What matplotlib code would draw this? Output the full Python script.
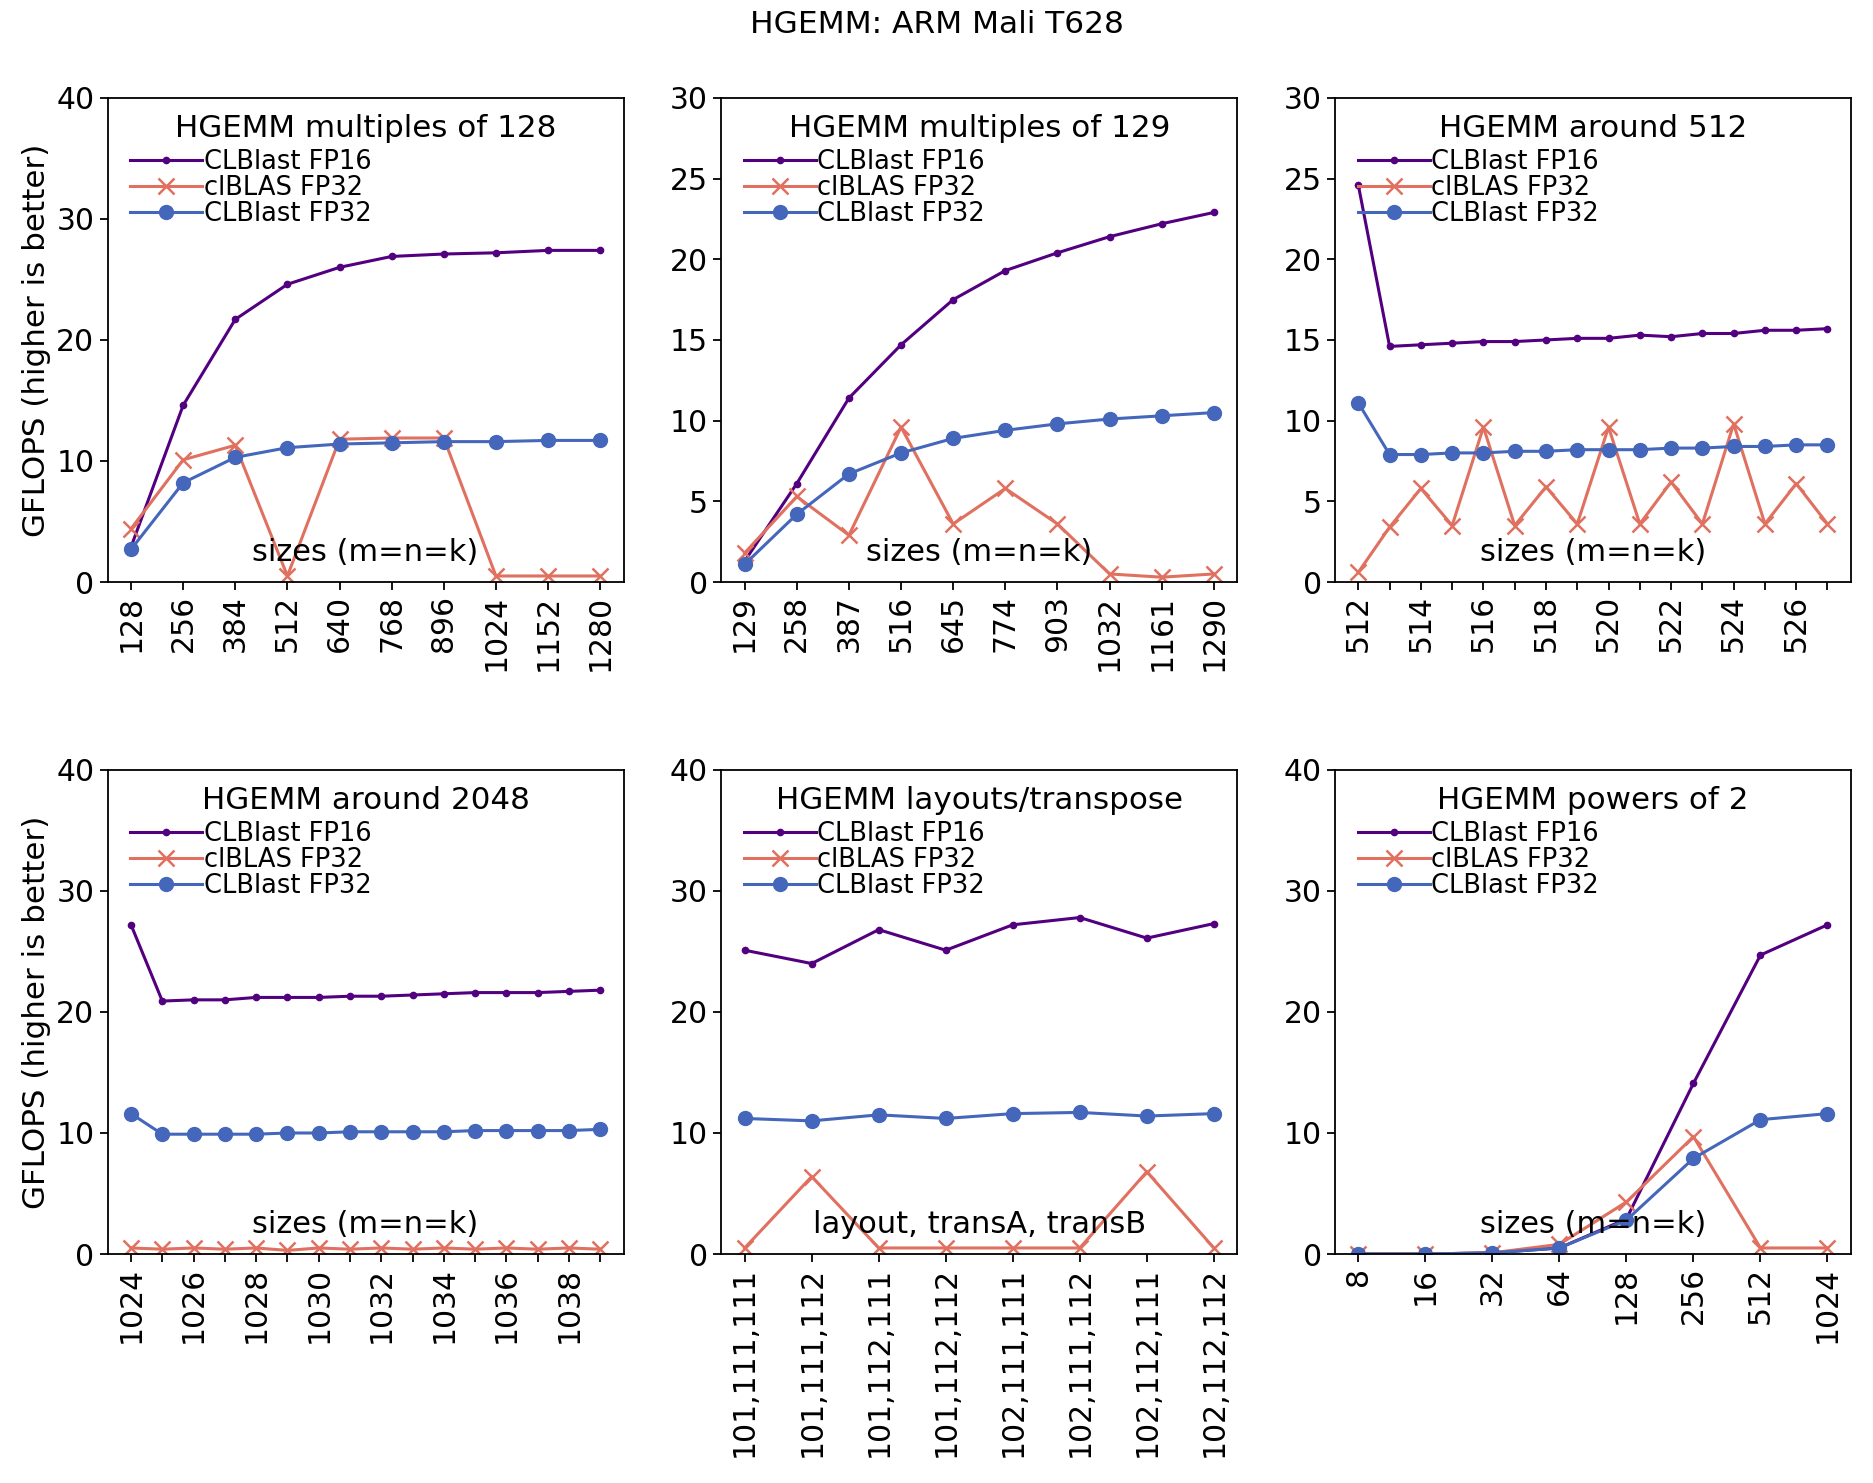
import matplotlib
matplotlib.use("Agg")
import matplotlib.pyplot as plt

# x labels per panel
sizes_128 = ["128", "256", "384", "512", "640", "768", "896", "1024", "1152", "1280"]
sizes_129 = ["129", "258", "387", "516", "645", "774", "903", "1032", "1161", "1290"]
sizes_512 = [str(v) for v in range(512, 528)]
sizes_2048 = [str(v) for v in range(1024, 1040)]
layouts = ["101,111,111", "101,111,112", "101,112,111", "101,112,112",
           "102,111,111", "102,111,112", "102,112,111", "102,112,112"]
sizes_pow2 = ["8", "16", "32", "64", "128", "256", "512", "1024"]

# GFLOPS values
fp16_128 = [2.9, 14.6, 21.7, 24.6, 26.0, 26.9, 27.1, 27.2, 27.4, 27.4]
clblas_128 = [4.4, 10.1, 11.3, 0.5, 11.8, 11.9, 11.9, 0.5, 0.5, 0.5]
fp32_128 = [2.7, 8.2, 10.3, 11.1, 11.4, 11.5, 11.6, 11.6, 11.7, 11.7]

fp16_129 = [1.3, 6.1, 11.4, 14.7, 17.5, 19.3, 20.4, 21.4, 22.2, 22.9]
clblas_129 = [1.8, 5.3, 2.9, 9.6, 3.6, 5.8, 3.6, 0.5, 0.3, 0.5]
fp32_129 = [1.1, 4.2, 6.7, 8.0, 8.9, 9.4, 9.8, 10.1, 10.3, 10.5]

fp16_512 = [24.6, 14.6, 14.7, 14.8, 14.9, 14.9, 15.0, 15.1, 15.1, 15.3, 15.2, 15.4, 15.4, 15.6, 15.6, 15.7]
clblas_512 = [0.6, 3.4, 5.8, 3.5, 9.6, 3.5, 5.9, 3.6, 9.6, 3.6, 6.2, 3.6, 9.8, 3.6, 6.1, 3.6]
fp32_512 = [11.1, 7.9, 7.9, 8.0, 8.0, 8.1, 8.1, 8.2, 8.2, 8.2, 8.3, 8.3, 8.4, 8.4, 8.5, 8.5]

fp16_2048 = [27.2, 20.9, 21.0, 21.0, 21.2, 21.2, 21.2, 21.3, 21.3, 21.4, 21.5, 21.6, 21.6, 21.6, 21.7, 21.8]
clblas_2048 = [0.5, 0.4, 0.5, 0.4, 0.5, 0.3, 0.5, 0.4, 0.5, 0.4, 0.5, 0.4, 0.5, 0.4, 0.5, 0.4]
fp32_2048 = [11.6, 9.9, 9.9, 9.9, 9.9, 10.0, 10.0, 10.1, 10.1, 10.1, 10.1, 10.2, 10.2, 10.2, 10.2, 10.3]

fp16_layout = [25.1, 24.0, 26.8, 25.1, 27.2, 27.8, 26.1, 27.3]
clblas_layout = [0.5, 6.4, 0.5, 0.5, 0.5, 0.5, 6.8, 0.5]
fp32_layout = [11.2, 11.0, 11.5, 11.2, 11.6, 11.7, 11.4, 11.6]

fp16_pow2 = [0.0, 0.0, 0.1, 0.5, 2.9, 14.1, 24.7, 27.2]
clblas_pow2 = [0.0, 0.0, 0.1, 0.8, 4.3, 9.7, 0.5, 0.5]
fp32_pow2 = [0.0, 0.0, 0.1, 0.5, 2.8, 7.9, 11.1, 11.6]

panels = [
    ("HGEMM multiples of 128", "sizes (m=n=k)", sizes_128, fp16_128, clblas_128, fp32_128, 40, 10, 1),
    ("HGEMM multiples of 129", "sizes (m=n=k)", sizes_129, fp16_129, clblas_129, fp32_129, 30, 5, 1),
    ("HGEMM around 512", "sizes (m=n=k)", sizes_512, fp16_512, clblas_512, fp32_512, 30, 5, 2),
    ("HGEMM around 2048", "sizes (m=n=k)", sizes_2048, fp16_2048, clblas_2048, fp32_2048, 40, 10, 2),
    ("HGEMM layouts/transpose", "layout, transA, transB", layouts, fp16_layout, clblas_layout, fp32_layout, 40, 10, 1),
    ("HGEMM powers of 2", "sizes (m=n=k)", sizes_pow2, fp16_pow2, clblas_pow2, fp32_pow2, 40, 10, 1),
]

PURPLE = "#520080"
RED = "#e0705f"
BLUE = "#4466bb"

fig, axes = plt.subplots(2, 3, figsize=(18.74, 14.83), dpi=100)
plt.subplots_adjust(left=0.0574, right=0.9877, top=0.934, bottom=0.1544, wspace=0.189, hspace=0.388)
fig.suptitle("HGEMM: ARM Mali T628", fontsize=22.5, y=0.993)

for i, (title, xlabel, labels, fp16, clblas, fp32, ymax, ystep, every) in enumerate(panels):
    ax = axes.flat[i]
    x = list(range(len(labels)))
    ax.plot(x, fp16, color=PURPLE, marker=".", markersize=9, linewidth=2.2, label="CLBlast FP16")
    ax.plot(x, clblas, color=RED, marker="x", markersize=11, markeredgewidth=1.8, linewidth=2.2, label="clBLAS FP32")
    ax.plot(x, fp32, color=BLUE, marker="o", markersize=10, linewidth=2.2, label="CLBlast FP32")
    ax.set_ylim(0, ymax)
    ax.set_yticks(range(0, ymax + 1, ystep))
    ax.set_xticks(x)
    ax.set_xticklabels([lab if j % every == 0 else "" for j, lab in enumerate(labels)], rotation=90)
    ax.tick_params(labelsize=21.5, width=1.3, length=6)
    for s in ax.spines.values():
        s.set_linewidth(1.3)
    ax.text(0.5, 0.937, title, transform=ax.transAxes, ha="center", va="center", fontsize=22.3)
    ax.text(0.5, 0.062, xlabel, transform=ax.transAxes, ha="center", va="center", fontsize=22)
    ax.legend(loc="upper left", bbox_to_anchor=(0.022, 0.918), frameon=False, fontsize=18.5,
              handlelength=2.8, handletextpad=0.05, borderaxespad=0.25, labelspacing=0.0,
              borderpad=0.2)
    if i % 3 == 0:
        ax.set_ylabel("GFLOPS (higher is better)", fontsize=22.3)

fig.savefig("out.png", dpi=100)
